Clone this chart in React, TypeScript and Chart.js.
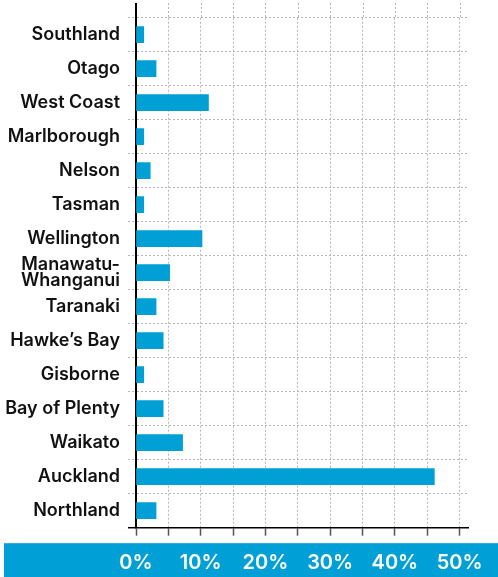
import React, { useEffect, useRef } from 'react';
import { Chart, registerables } from 'chart.js';

Chart.register(...registerables);

const regions: (string | string[])[] = [
  'Southland',
  'Otago',
  'West Coast',
  'Marlborough',
  'Nelson',
  'Tasman',
  'Wellington',
  ['Manawatu-', 'Whanganui'],
  'Taranaki',
  'Hawke’s Bay',
  'Gisborne',
  'Bay of Plenty',
  'Waikato',
  'Auckland',
  'Northland',
];

const shares: number[] = [1.2, 3.1, 11.2, 1.2, 2.2, 1.2, 10.2, 5.2, 3.1, 4.2, 1.2, 4.2, 7.2, 46.1, 3.1];

const xGridValues: number[] = [0, 5, 10, 15, 20, 25, 30, 35, 40, 45, 50];
const xLabelValues: number[] = [0, 10, 20, 30, 40, 50];

const BLUE = '#009fd6';
const GRID = '#b5b5b5';
const FONT = 'Inter';

const extras = {
  id: 'extras',
  beforeDraw(chart: any) {
    const { ctx, width, height, chartArea } = chart;
    ctx.save();
    ctx.fillStyle = BLUE;
    const top = chartArea.bottom + 15.5;
    ctx.fillRect(4, top, width - 4, height - top);
    ctx.restore();
  },
  beforeDatasetsDraw(chart: any) {
    const { ctx, chartArea, scales } = chart;
    const x = scales.x;
    ctx.save();
    ctx.strokeStyle = GRID;
    ctx.lineWidth = 1;
    ctx.setLineDash([2, 2]);
    xGridValues.forEach((v) => {
      const px = Math.round(x.getPixelForValue(v)) + 0.5;
      ctx.beginPath();
      ctx.moveTo(px, 3);
      ctx.lineTo(px, chartArea.top);
      ctx.stroke();
    });
    ctx.setLineDash([]);
    ctx.strokeStyle = '#000';
    ctx.lineWidth = 2;
    ctx.beginPath();
    ctx.moveTo(chartArea.left, 3);
    ctx.lineTo(chartArea.left, chartArea.top);
    ctx.stroke();
    ctx.lineWidth = 1.5;
    ctx.beginPath();
    ctx.moveTo(chartArea.left - 8, chartArea.bottom);
    ctx.lineTo(chartArea.left, chartArea.bottom);
    ctx.stroke();
    ctx.restore();
  },
};

export default function App() {
  const canvasRef = useRef<HTMLCanvasElement>(null);

  useEffect(() => {
    document.body.style.margin = '0';
    const canvas = canvasRef.current;
    if (!canvas) return;
    const chart = new Chart(canvas, {
      type: 'bar',
      data: {
        labels: regions as any,
        datasets: [
          {
            data: shares,
            backgroundColor: BLUE,
            borderWidth: 0,
            barThickness: 16,
          },
        ],
      },
      plugins: [extras],
      options: {
        indexAxis: 'y',
        animation: false,
        responsive: true,
        maintainAspectRatio: false,
        layout: { padding: { top: 17.7, right: 19, bottom: 0, left: 0 } },
        plugins: {
          legend: { display: false },
          tooltip: { enabled: false },
        },
        scales: {
          x: {
            type: 'linear',
            min: 0,
            max: 51.3,
            afterBuildTicks: (scale: any) => {
              scale.ticks = xGridValues.map((v) => ({ value: v }));
            },
            afterFit: (scale: any) => {
              scale.height = 49.3;
            },
            grid: {
              color: GRID,
              lineWidth: 1,
              drawTicks: true,
              tickLength: 8,
              tickColor: '#555',
              tickWidth: 1.5,
              tickBorderDash: [],
            },
            border: { display: true, color: '#000', width: 1.5, dash: [2, 2] },
            ticks: {
              padding: 15,
              color: '#ffffff',
              font: { family: FONT, size: 20, weight: 600 },
              maxRotation: 0,
              autoSkip: false,
              callback: (v: any) => (xLabelValues.includes(Number(v)) ? `${v}%` : ''),
            },
          },
          y: {
            type: 'category',
            z: 1,
            afterFit: (scale: any) => {
              scale.width = 136;
            },
            grid: {
              color: GRID,
              lineWidth: 1,
              offset: true,
              drawTicks: true,
              tickLength: 8,
              tickColor: GRID,
              tickBorderDash: [2, 2],
            },
            border: { display: true, color: '#000', width: 2, dash: [2, 2] },
            ticks: {
              padding: 8,
              color: '#111111',
              font: { family: FONT, size: 18, weight: 600, lineHeight: 0.85 },
              autoSkip: false,
            },
          },
        },
      },
    });
    return () => chart.destroy();
  }, []);

  return (
    <div style={{ position: 'relative', width: '498px', height: '577px' }}>
      <canvas ref={canvasRef} />
    </div>
  );
}
